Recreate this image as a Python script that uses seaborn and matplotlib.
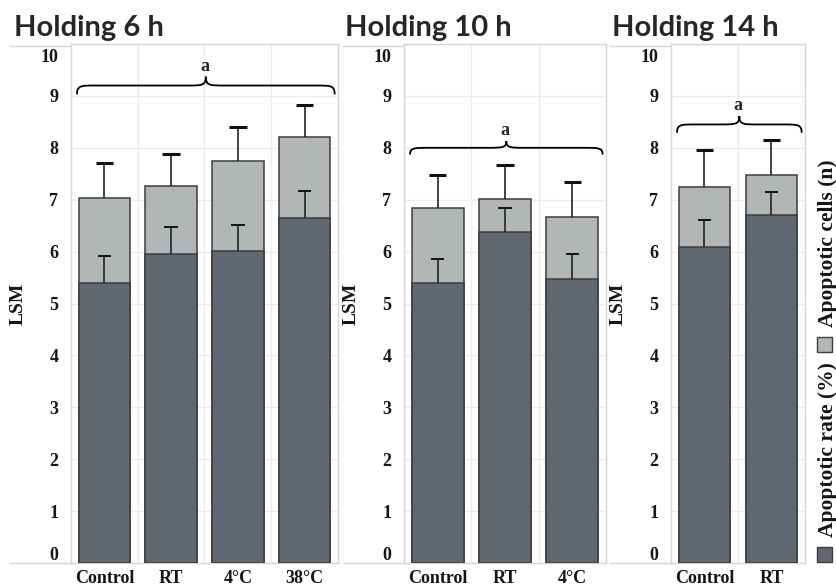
import numpy as np
import pandas as pd
import matplotlib.pyplot as plt
import matplotlib.transforms as mtransforms
import seaborn as sns
from matplotlib.path import Path
from matplotlib.patches import PathPatch, Rectangle
from matplotlib.lines import Line2D

# Values (LSM)
groups_6h = ["Control", "RT", "4°C", "38°C"]
cells_6h = [7.04, 7.27, 7.74, 8.21]
cells_6h_err = [0.66, 0.62, 0.66, 0.62]
rate_6h = [5.40, 5.96, 6.01, 6.64]
rate_6h_err = [0.51, 0.51, 0.50, 0.52]

groups_10h = ["Control", "RT", "4°C"]
cells_10h = [6.84, 7.02, 6.66]
cells_10h_err = [0.63, 0.65, 0.68]
rate_10h = [5.40, 6.38, 5.48]
rate_10h_err = [0.46, 0.46, 0.47]

groups_14h = ["Control", "RT"]
cells_14h = [7.25, 7.48]
cells_14h_err = [0.70, 0.67]
rate_14h = [6.08, 6.71]
rate_14h_err = [0.53, 0.44]

titles = ["Holding 6 h", "Holding 10 h", "Holding 14 h"]
letters = ["a", "a", "a"]
# brace: ends, flat level, tip (in LSM)
brace_y = [(9.03, 9.20, 9.37), (7.87, 8.00, 8.13), (8.29, 8.45, 8.61)]

dark = "#5f6770"
light = "#b3b6b7"
edge = "#3a3d40"
grid_c = "#ececec"
frame_c = "#d6d6d6"
serif = "Liberation Serif"

W, H = 837, 587

sns.set_theme(style="white")
plt.rcParams["font.family"] = ["DejaVu Sans"]

fig = plt.figure(figsize=(W / 100, H / 100), dpi=100)

# pixel layout of each panel: (outer left, plot left, plot right)
panels_px = [(10, 71, 338), (343, 404, 606), (610, 671, 805)]
top_px, bottom_px = 44, 563
title_x = [14, 345, 612]


def draw_brace(ax, x0, x1, y0, y1, y2, rx=0.28):
    xm = (x0 + x1) / 2
    verts = [
        (x0, y0),
        (x0, y1), (x0 + rx * 0.2, y1), (x0 + rx, y1),
        (xm - rx, y1),
        (xm - rx * 0.2, y1), (xm, y1), (xm, y2),
        (xm, y1), (xm + rx * 0.2, y1), (xm + rx, y1),
        (x1 - rx, y1),
        (x1 - rx * 0.2, y1), (x1, y1), (x1, y0),
    ]
    codes = [Path.MOVETO,
             Path.CURVE4, Path.CURVE4, Path.CURVE4,
             Path.LINETO,
             Path.CURVE4, Path.CURVE4, Path.CURVE4,
             Path.CURVE4, Path.CURVE4, Path.CURVE4,
             Path.LINETO,
             Path.CURVE4, Path.CURVE4, Path.CURVE4]
    ax.add_patch(PathPatch(Path(verts, codes), facecolor="none",
                           edgecolor="black", lw=1.3, clip_on=False))


def up_errors(ax, x, tops, errs, cap, cap_lw):
    x = np.asarray(x, dtype=float)
    tops = np.asarray(tops)
    ends = tops + np.asarray(errs)
    ax.vlines(x, tops, ends, color="#222222", lw=1.2, zorder=5)
    ax.hlines(ends, x - cap / 2, x + cap / 2, color="#111111", lw=cap_lw, zorder=5)


data = [
    (groups_6h, cells_6h, cells_6h_err, rate_6h, rate_6h_err),
    (groups_10h, cells_10h, cells_10h_err, rate_10h, rate_10h_err),
    (groups_14h, cells_14h, cells_14h_err, rate_14h, rate_14h_err),
]

for i, (groups, cells, cells_err, rate, rate_err) in enumerate(data):
    outer, left, right = panels_px[i]
    ax = fig.add_axes([left / W, 1 - bottom_px / H,
                       (right - left) / W, (bottom_px - top_px) / H])
    n = len(groups)
    df = pd.DataFrame({"group": groups, "cells": cells, "rate": rate})

    sns.barplot(data=df, x="group", y="cells", color=light, saturation=1,
                width=0.77, edgecolor=edge, linewidth=1.1, errorbar=None,
                ax=ax, zorder=2)
    sns.barplot(data=df, x="group", y="rate", color=dark, saturation=1,
                width=0.77, edgecolor=edge, linewidth=1.1, errorbar=None,
                ax=ax, zorder=3)

    xs = np.arange(n)
    up_errors(ax, xs, cells, cells_err, cap=0.26, cap_lw=2.2)
    up_errors(ax, xs, rate, rate_err, cap=0.20, cap_lw=1.4)

    ax.set_ylim(0, 10)
    ax.set_xlim(-0.5, n - 0.5)
    ax.set_yticks(range(11))
    ax.set_xticks(xs, groups)
    ax.set_xticks(np.arange(n - 1) + 0.5, minor=True)
    ax.grid(axis="y", which="major", color=grid_c, lw=1, zorder=0)
    ax.grid(axis="x", which="minor", color=grid_c, lw=1, zorder=0)
    ax.set_axisbelow(True)
    ax.tick_params(axis="both", which="both", length=0)
    ax.tick_params(axis="y", pad=9)
    ax.tick_params(axis="x", pad=5)
    for lab in ax.get_xticklabels() + ax.get_yticklabels():
        lab.set_fontfamily(serif)
        lab.set_fontweight("bold")
        lab.set_fontsize(13)
        lab.set_color("#151515")
    # the end labels sit a little inside the frame, as in the reference
    ylabs = ax.get_yticklabels()
    ylabs[0].set_transform(ylabs[0].get_transform() +
                           mtransforms.ScaledTranslation(0, 0.10, fig.dpi_scale_trans))
    ylabs[-1].set_transform(ylabs[-1].get_transform() +
                            mtransforms.ScaledTranslation(0, -0.12, fig.dpi_scale_trans))
    for sp in ax.spines.values():
        sp.set_color(frame_c)
        sp.set_linewidth(1)
        sp.set_visible(True)

    ax.set_xlabel("")
    ax.set_ylabel("LSM", fontfamily=serif, fontweight="bold", fontsize=14,
                  color="#151515")
    ax.yaxis.set_label_coords((outer + 17 - left) / (right - left), 0.5)

    # significance brace
    y0, y1, y2 = brace_y[i]
    draw_brace(ax, -0.41, n - 0.55, y0, y1, y2)
    ax.text((n - 1) / 2, y2 + 0.04, letters[i], ha="center", va="bottom",
            fontfamily=serif, fontweight="bold", fontsize=13)

    # outer chart frame segments
    for yy in (top_px + 2, bottom_px):
        fig.add_artist(Line2D([outer / W, left / W], [1 - yy / H, 1 - yy / H],
                              color=frame_c, lw=1))

    fig.text(title_x[i] / W, 1 - 36 / H, titles[i], fontfamily="Lato",
             fontweight="bold", fontsize=21, ha="left", va="baseline")

# legend (vertical, rotated)
leg_items = [("Apoptotic rate (%)", dark, 562, 537),
             ("Apoptotic cells (n)", light, 352, 327)]
for label, col, sq_bottom, txt_bottom in leg_items:
    fig.add_artist(Rectangle((817 / W, 1 - sq_bottom / H), 15 / W, 15 / H,
                             facecolor=col, edgecolor=edge, lw=1,
                             transform=fig.transFigure))
    fig.text(828 / W, 1 - txt_bottom / H, label, rotation=90, ha="center",
             va="bottom", fontfamily=serif, fontweight="bold", fontsize=15.5,
             color="#151515")

fig.savefig("out.png", dpi=100)
